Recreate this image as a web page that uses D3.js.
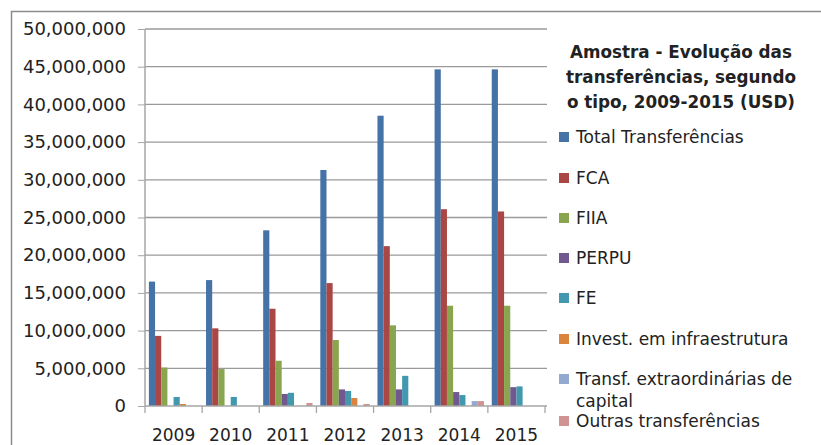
<!DOCTYPE html>
<html>
<head>
<meta charset="utf-8">
<script src="https://cdn.jsdelivr.net/npm/d3@7"></script>
<style>
  body { margin: 0; background: #fff; }
  text { font-family: "DejaVu Sans", sans-serif; fill: #222; }
</style>
</head>
<body>
<script>
// dados
var anos = ["2009", "2010", "2011", "2012", "2013", "2014", "2015"]
var tipos = ["Total Transferências", "FCA", "FIIA", "PERPU", "FE", "Invest. em infraestrutura", "Transf. extraordinárias de capital", "Outras transferências"]
var cores = ["#4572A7", "#AA4643", "#89A54E", "#71588F", "#4198AF", "#DB843D", "#93A9CF", "#D19392"]

var total    = [16500000, 16700000, 23300000, 31300000, 38500000, 44650000, 44650000]
var fca      = [9300000, 10300000, 12900000, 16300000, 21200000, 26100000, 25800000]
var fiia     = [5100000, 4900000, 6000000, 8750000, 10700000, 13300000, 13300000]
var perpu    = [0, 0, 1600000, 2200000, 2200000, 1850000, 2500000]
var fe       = [1200000, 1200000, 1750000, 2000000, 4000000, 1450000, 2600000]
var invest   = [270000, 0, 0, 1060000, 0, 0, 0]
var extraord = [0, 0, 0, 0, 0, 650000, 0]
var outras   = [0, 0, 400000, 270000, 0, 650000, 0]

var series = [total, fca, fiia, perpu, fe, invest, extraord, outras]
var ticksY = d3.range(0, 50000001, 5000000)

var svg = d3.select("body").append("svg")
  .attr("width", 821)
  .attr("height", 445)

// moldura
svg.append("path")
  .attr("d", "M11.5,445 V11.5 H821")
  .attr("fill", "none")
  .attr("stroke", "#8c8c8c")
  .attr("stroke-width", 1.5)

var escalaX = d3.scaleBand().domain(anos).range([145, 545])
var escalaSerie = d3.scaleBand().domain(d3.range(tipos.length))
  .range([0, escalaX.bandwidth()]).paddingOuter(0.63)
var escalaY = d3.scaleLinear().domain([0, 50000000]).range([406, 29])

// grade
svg.selectAll(".grade").data(ticksY.slice(1)).enter()
  .append("line")
  .attr("x1", 145).attr("x2", 547)
  .attr("y1", d => escalaY(d)).attr("y2", d => escalaY(d))
  .attr("stroke", "#9a9a9a").attr("stroke-width", 1.3)

// barras
series.forEach(function(valores, i) {
  svg.selectAll(".s" + i).data(valores).enter()
    .append("rect")
    .attr("x", (d, j) => escalaX(anos[j]) + escalaSerie(i))
    .attr("width", escalaSerie.bandwidth())
    .attr("y", d => escalaY(d))
    .attr("height", d => escalaY(0) - escalaY(d))
    .attr("fill", cores[i])
})

// eixo Y
var eixoY = d3.axisLeft(escalaY).tickValues(ticksY)
  .tickFormat(d3.format(",")).tickSize(7).tickPadding(12)
var gY = svg.append("g").attr("transform", "translate(145,0)").call(eixoY)
gY.selectAll("text").style("font-size", "18px").attr("fill", "#222")
gY.selectAll("line").attr("stroke", "#a6a6a6")
gY.select(".domain").attr("stroke", "#a6a6a6").attr("stroke-width", 1.5)
  .attr("d", "M0,29 V406")

// eixo X
var eixoX = d3.axisBottom(escalaX).tickSize(0).tickPadding(23)
var gX = svg.append("g").attr("transform", "translate(0,406)").call(eixoX)
gX.selectAll("text").style("font-size", "17px").attr("fill", "#222")
gX.select(".domain").attr("stroke", "#a6a6a6").attr("stroke-width", 1.5)
  .attr("d", "M145,0 H547")
gX.selectAll(".marca").data(anos.concat(["fim"])).enter()
  .append("line")
  .attr("x1", (d, j) => 145 + j * escalaX.step())
  .attr("x2", (d, j) => 145 + j * escalaX.step())
  .attr("y1", 0).attr("y2", 7)
  .attr("stroke", "#a6a6a6").attr("stroke-width", 1.3)

// titulo
var titulo = ["Amostra - Evolução das", "transferências, segundo", "o tipo, 2009-2015 (USD)"]
svg.selectAll(".titulo").data(titulo).enter()
  .append("text")
  .attr("x", 681)
  .attr("y", (d, i) => 58 + i * 25)
  .attr("text-anchor", "middle")
  .style("font-size", "16.8px")
  .style("font-weight", "bold")
  .text(d => d)

// legenda
var linhasLegenda = [["Total Transferências"], ["FCA"], ["FIIA"], ["PERPU"], ["FE"],
  ["Invest. em infraestrutura"], ["Transf. extraordinárias de", "capital"], ["Outras transferências"]]
var yLegenda = [137, 178, 218, 258, 298, 339, 379, 421]

var legenda = svg.selectAll(".leg").data(linhasLegenda).enter()
  .append("g")
  .attr("transform", (d, i) => "translate(559," + yLegenda[i] + ")")

legenda.append("rect")
  .attr("x", 0).attr("y", -5)
  .attr("width", 10).attr("height", 10)
  .attr("fill", (d, i) => cores[i])

legenda.each(function(linhas) {
  var t = d3.select(this).append("text")
    .attr("x", 17)
    .attr("y", 6)
    .style("font-size", "17px")
  linhas.forEach(function(l, k) {
    t.append("tspan").attr("x", 17).attr("dy", k == 0 ? 0 : 22).text(l)
  })
})
</script>
</body>
</html>
